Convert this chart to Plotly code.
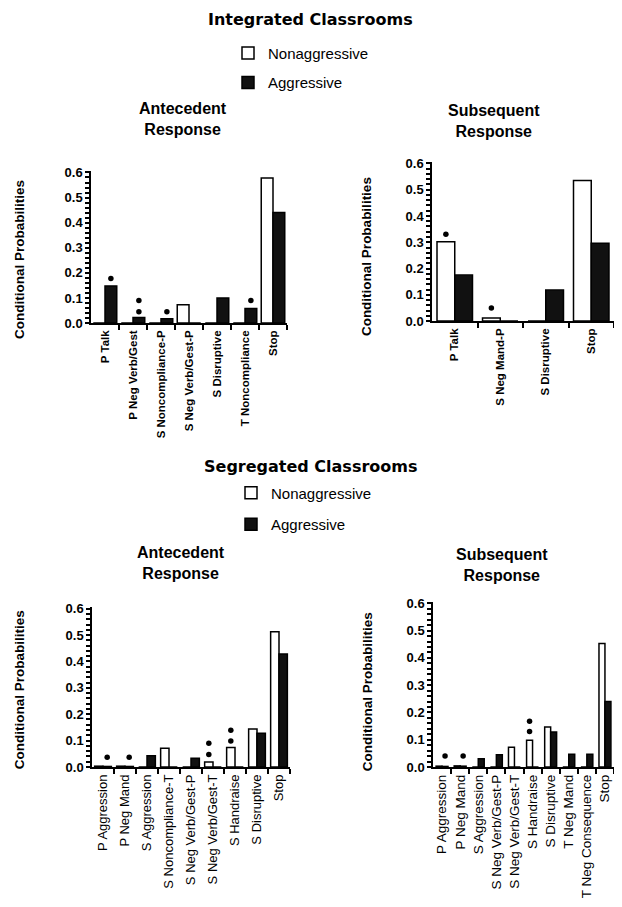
import plotly.graph_objects as go

# Integrated classrooms - antecedent response
int_ante_cats = ["P Talk", "P Neg Verb/Gest", "S Noncompliance-P", "S Neg Verb/Gest-P",
                 "S Disruptive", "T Noncompliance", "Stop"]
int_ante_non = [0, 0, 0, 0.073, 0, 0, 0.578]
int_ante_agg = [0.148, 0.022, 0.017, 0, 0.1, 0.058, 0.44]
int_ante_dot_cat = ["P Talk", "P Neg Verb/Gest", "P Neg Verb/Gest", "S Noncompliance-P", "T Noncompliance"]
int_ante_dot_y = [0.178, 0.09, 0.045, 0.045, 0.09]
int_ante_dot_grp = ["agg", "agg", "agg", "agg", "agg"]

# Integrated classrooms - subsequent response
int_subs_cats = ["P Talk", "S Neg Mand-P", "S Disruptive", "Stop"]
int_subs_non = [0.302, 0.012, 0, 0.535]
int_subs_agg = [0.175, 0, 0.118, 0.296]
int_subs_dot_cat = ["P Talk", "S Neg Mand-P"]
int_subs_dot_y = [0.33, 0.05]
int_subs_dot_grp = ["non", "non"]

# Segregated classrooms - antecedent response
seg_ante_cats = ["P Aggression", "P Neg Mand", "S Aggression", "S Noncompliance-T",
                 "S Neg Verb/Gest-P", "S Neg Verb/Gest-T", "S Handraise", "S Disruptive", "Stop"]
seg_ante_non = [0.003, 0.003, 0, 0.071, 0, 0.019, 0.074, 0.144, 0.513]
seg_ante_agg = [0.002, 0.002, 0.043, 0, 0.033, 0, 0, 0.128, 0.428]
seg_ante_dot_cat = ["P Aggression", "P Neg Mand", "S Neg Verb/Gest-T", "S Neg Verb/Gest-T",
                    "S Handraise", "S Handraise"]
seg_ante_dot_y = [0.037, 0.037, 0.09, 0.047, 0.139, 0.098]
seg_ante_dot_grp = ["agg", "agg", "non", "non", "non", "non"]

# Segregated classrooms - subsequent response
seg_subs_cats = ["P Aggression", "P Neg Mand", "S Aggression", "S Neg Verb/Gest-P",
                 "S Neg Verb/Gest-T", "S Handraise", "S Disruptive", "T Neg Mand",
                 "T Neg Consequence", "Stop"]
seg_subs_non = [0.003, 0.004, 0, 0, 0.072, 0.098, 0.147, 0, 0, 0.453]
seg_subs_agg = [0.002, 0.003, 0.03, 0.045, 0, 0, 0.128, 0.047, 0.047, 0.24]
seg_subs_dot_cat = ["P Aggression", "P Neg Mand", "S Handraise", "S Handraise"]
seg_subs_dot_y = [0.04, 0.04, 0.168, 0.13]
seg_subs_dot_grp = ["agg", "agg", "non", "non"]

# y ticks: labelled every 0.1, small ticks every 0.02
y_labels = ["0.0", "0.1", "0.2", "0.3", "0.4", "0.5", "0.6"]

# the page body has an 8px margin on every side; keep the figure inside the
# window so no scrollbars appear
OFF = 8
W, H = 622 - 2 * OFF, 907 - 2 * OFF


def px_x(p):
    return (p - OFF) / W


def px_y(p):
    return 1 - (p - OFF) / H


BOLD = "Liberation Sans"
YMAX = 0.606
RIGHT = 622 - OFF

y_tickvals = [j / 50 for j in range(31)]
y_ticktext = [y_labels[j // 5] if j % 5 == 0 else "" for j in range(31)]

panels = [
    dict(cats=int_ante_cats, non=int_ante_non, agg=int_ante_agg,
         dc=int_ante_dot_cat, dy=int_ante_dot_y, dg=int_ante_dot_grp,
         x0=91, x1=287, y0=322, unit=25.5, bw=0.42,
         tfont=dict(family=BOLD, size=11.5, color="black", weight="bold"), legend="legend"),
    dict(cats=int_subs_cats, non=int_subs_non, agg=int_subs_agg,
         dc=int_subs_dot_cat, dy=int_subs_dot_y, dg=int_subs_dot_grp,
         x0=432, x1=RIGHT, y0=320, unit=26.7, bw=0.39,
         tfont=dict(family=BOLD, size=11.5, color="black", weight="bold"), legend=None),
    dict(cats=seg_ante_cats, non=seg_ante_non, agg=seg_ante_agg,
         dc=seg_ante_dot_cat, dy=seg_ante_dot_y, dg=seg_ante_dot_grp,
         x0=92, x1=290, y0=773, unit=26.8, bw=0.38,
         tfont=dict(family="Liberation Sans", size=13, color="black"), legend="legend2"),
    dict(cats=seg_subs_cats, non=seg_subs_non, agg=seg_subs_agg,
         dc=seg_subs_dot_cat, dy=seg_subs_dot_y, dg=seg_subs_dot_grp,
         x0=433, x1=RIGHT, y0=773, unit=27.7, bw=0.33,
         tfont=dict(family="Liberation Sans", size=13.5, color="black"), legend=None),
]

fig = go.Figure()
layout = {}

for i, p in enumerate(panels):
    n_cat = len(p["cats"])
    idx = list(range(n_cat))
    k, kl = str(i + 1) if i else "", str(i + 5)
    xa, ya, xl = "x" + k, "y" + k, "x" + kl
    bw = p["bw"]
    for name, vals, fill, off in [("Nonaggressive", p["non"], "white", -bw),
                                   ("Aggressive", p["agg"], "#111111", 0)]:
        fig.add_trace(go.Bar(
            x=idx, y=vals, name=name, width=bw, offset=off,
            marker=dict(color=fill, line=dict(color="black", width=1.5)),
            xaxis=xa, yaxis=ya,
            showlegend=p["legend"] is not None,
            legend=p["legend"] if p["legend"] else "legend",
            legendgroup=name + k,
            hoverinfo="skip",
        ))
    dot_x = [p["cats"].index(c) + (bw / 2 if g == "agg" else -bw / 2)
             for c, g in zip(p["dc"], p["dg"])]
    fig.add_trace(go.Scatter(
        x=dot_x, y=p["dy"], mode="markers", xaxis=xl, yaxis=ya,
        marker=dict(color="black", size=5.5, symbol="circle"),
        showlegend=False, hoverinfo="skip",
    ))

    top_px = p["y0"] - YMAX * 10 * p["unit"]
    xrange = [-0.5, n_cat - 0.5]
    # base axis: line + ticks between categories
    layout["xaxis" + k] = dict(
        domain=[px_x(p["x0"]), px_x(p["x1"])],
        range=xrange, anchor=ya,
        tickmode="array", tickvals=[j + 0.5 for j in idx], showticklabels=False,
        ticks="outside", ticklen=5, tickwidth=1.5, tickcolor="black",
        showline=True, linecolor="black", linewidth=1.5,
        showgrid=False, zeroline=False, fixedrange=True,
    )
    # overlay axis: category labels
    layout["xaxis" + kl] = dict(
        overlaying=xa, anchor=ya, range=xrange,
        tickmode="array", tickvals=idx, ticktext=p["cats"],
        tickangle=-90, ticks="", tickfont=p["tfont"], ticklabelstandoff=4,
        showline=False, showgrid=False, zeroline=False, fixedrange=True,
    )
    layout["yaxis" + k] = dict(
        domain=[px_y(p["y0"]), px_y(top_px)],
        range=[0, YMAX], anchor=xa,
        tickmode="array", tickvals=y_tickvals, ticktext=y_ticktext,
        ticks="outside", ticklen=4, tickwidth=1.5, tickcolor="black",
        tickfont=dict(family=BOLD, size=13, color="black", weight="bold"),
        showline=True, linecolor="black", linewidth=1.5,
        showgrid=False, zeroline=False, fixedrange=True,
    )


def note(text, x, y, size, bold=True, angle=0, family=BOLD):
    return dict(text=text, x=px_x(x), y=px_y(y), xref="paper", yref="paper",
                showarrow=False, textangle=angle, xanchor="center", yanchor="middle",
                font=dict(family=family, size=size, color="black",
                          weight="bold" if bold else "normal"))


annotations = [
    note("Integrated Classrooms", 310, 14, 16, family="DejaVu Sans"),
    note("Antecedent<br>Response", 183, 115, 16),
    note("Subsequent<br>Response", 494, 117, 16),
    note("Segregated Classrooms", 310, 468, 16, family="DejaVu Sans"),
    note("Antecedent<br>Response", 181, 566, 16),
    note("Subsequent<br>Response", 502, 568, 16),
    note("Conditional Probabilities", 19, 258, 13.5, angle=-90),
    note("Conditional Probabilities", 366, 255, 13.5, angle=-90),
    note("Conditional Probabilities", 19, 695, 13.5, angle=-90),
    note("Conditional Probabilities", 367, 697, 13.5, angle=-90),
]

legend_style = dict(
    xanchor="left", yanchor="top", bgcolor="rgba(0,0,0,0)", tracegroupgap=7,
    font=dict(family="Liberation Sans", size=15, color="black"),
    itemclick=False, itemdoubleclick=False,
)

fig.update_layout(
    width=W, height=H,
    margin=dict(l=0, r=0, t=0, b=0),
    paper_bgcolor="white", plot_bgcolor="white",
    barmode="overlay",
    annotations=annotations,
    legend=dict(x=px_x(228), y=px_y(31), **legend_style),
    legend2=dict(x=px_x(231), y=px_y(478), tracegroupgap=9,
                 **{k_: v for k_, v in legend_style.items() if k_ != "tracegroupgap"}),
    **layout,
)

fig.write_html("out.html")
